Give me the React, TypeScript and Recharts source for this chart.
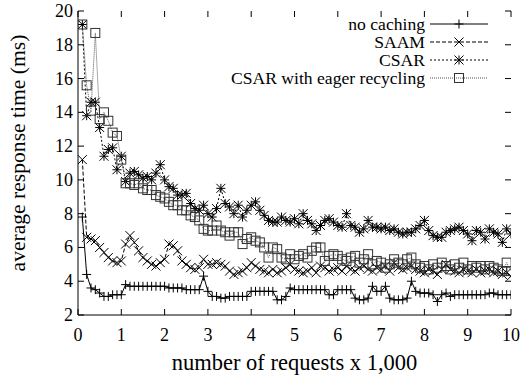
import React from "react";
import { LineChart, Line, XAxis, YAxis } from "recharts";

const xValues = Array.from({ length: 100 }, (_, i) => Number(((i + 1) / 10).toFixed(1)));

const noCaching = [
  7.8, 4.4, 3.6, 3.5, 3.3, 3.1, 3.1, 3.2, 3.2, 3.2,
  3.8, 3.7, 3.7, 3.7, 3.7, 3.7, 3.7, 3.7, 3.7, 3.7,
  3.6, 3.6, 3.6, 3.6, 3.5, 3.5, 3.5, 3.5, 4.3, 3.4,
  3.1, 3.1, 3.0, 3.0, 3.1, 3.1, 3.1, 3.1, 3.1, 3.4,
  3.4, 3.4, 3.4, 3.4, 3.4, 2.9, 2.9, 3.1, 3.6, 3.5,
  3.5, 3.5, 3.5, 3.5, 3.5, 3.5, 3.5, 3.2, 3.2, 3.5,
  3.5, 3.5, 3.5, 3.0, 2.9, 2.9, 3.0, 3.7, 3.4, 3.4,
  3.7, 3.0, 2.9, 2.9, 2.9, 3.0, 4.0, 3.4, 3.3, 3.3,
  3.3, 3.2, 2.8, 3.2, 3.3, 3.1, 3.2, 3.2, 3.2, 3.2,
  3.2, 3.2, 3.2, 3.2, 3.3, 3.3, 3.2, 3.2, 3.2, 3.2,
];

const saam = [
  11.2, 6.6, 6.5, 6.4, 6.0, 5.7, 5.4, 5.2, 5.1, 5.2,
  6.2, 6.7, 6.3, 5.8, 5.4, 5.2, 5.0, 4.9, 5.1, 5.3,
  6.2, 6.1, 5.8, 5.2, 5.0, 4.8, 4.7, 4.8, 5.3, 5.0,
  5.0, 5.1, 5.0, 4.9, 4.6, 4.4, 4.5, 4.6, 4.8, 5.1,
  4.9, 4.7, 4.6, 4.5, 4.7, 4.5, 4.6, 4.8, 5.0, 4.7,
  4.6, 4.5, 4.6, 4.8, 4.5, 4.9, 4.8, 4.6, 4.7, 4.8,
  4.6, 4.9, 4.7, 4.6, 4.8, 4.9, 4.7, 4.6, 4.8, 4.7,
  4.9, 4.6, 5.1, 4.8, 4.7, 4.8, 4.9, 4.7, 4.6, 4.5,
  4.7, 4.6, 4.4, 4.7, 5.0, 4.7, 4.6, 4.5, 4.7, 4.6,
  4.5, 4.7, 4.5, 4.6, 4.7, 4.5, 4.6, 4.4, 4.5, 4.3,
];

const csar = [
  19.2, 13.8, 14.6, 14.6, 13.1, 11.4, 11.8, 11.9, 10.6, 11.4,
  9.9, 10.4, 10.5, 10.3, 10.1, 10.2, 10.0, 10.4, 10.9, 10.0,
  9.6, 9.5, 9.1, 9.1, 9.2, 8.6, 8.3, 8.2, 8.5, 8.0,
  7.8, 8.3, 9.5, 8.6, 8.4, 8.0, 8.5, 7.8, 8.2, 8.5,
  8.7, 8.2, 7.9, 7.6, 7.5, 7.5, 7.8, 7.6, 7.5, 7.7,
  7.4, 8.0, 7.6, 7.4, 7.0, 7.3, 7.6, 7.7, 7.5, 7.3,
  7.2, 8.0, 7.3, 7.2, 6.9, 7.1, 7.6, 7.2, 7.2, 7.1,
  7.2, 7.0, 7.1, 6.9, 6.8, 6.9, 6.9, 7.1, 7.3, 7.6,
  7.0, 6.7, 6.6, 6.6, 6.9, 7.0, 7.1, 7.2, 7.0, 6.8,
  6.4, 7.0, 6.9, 6.5, 7.1, 6.9, 6.8, 6.3, 7.1, 6.8,
];

const csarEager = [
  19.2, 15.6, 14.1, 18.7, 13.6, 14.0, 13.5, 12.8, 12.6, 11.2,
  9.8, 9.8, 9.7, 9.8, 9.5, 9.4, 9.4, 9.1, 9.0, 8.9,
  8.7, 8.5, 8.5, 8.2, 8.2, 7.9, 7.8, 7.6, 7.1, 7.0,
  7.0, 7.3, 7.0, 6.9, 6.7, 6.9, 6.9, 6.2, 6.5, 6.6,
  6.4, 6.3, 6.0, 5.4, 6.0, 5.9, 5.4, 5.3, 5.6, 5.3,
  5.5, 5.6, 5.4, 5.8, 6.0, 6.0, 5.2, 5.5, 5.6, 5.5,
  5.3, 5.2, 5.4, 5.5, 5.1, 5.3, 5.6, 5.0, 5.2, 5.1,
  4.8, 5.0, 5.3, 5.1, 5.0, 5.3, 5.4, 5.0, 4.8, 4.9,
  4.7, 5.0, 4.8, 5.1, 4.9, 4.7, 5.0, 4.8, 5.1, 4.7,
  4.9, 4.8, 4.9, 4.7, 4.9, 4.8, 4.7, 4.6, 5.1, 4.6,
];

const xTicks = [0, 1, 2, 3, 4, 5, 6, 7, 8, 9, 10];
const yTicks = [2, 4, 6, 8, 10, 12, 14, 16, 18, 20];

const seriesNames = ["no caching", "SAAM", "CSAR", "CSAR with eager recycling"];

const data = xValues.map((x, i) => ({
  x,
  none: noCaching[i],
  saam: saam[i],
  csar: csar[i],
  eager: csarEager[i],
}));

const W = 524;
const H = 379;
const PLOT_TOP = 11;
const PLOT_BOTTOM = 315;
const PLOT_LEFT = 78;
const PLOT_RIGHT = 511;
const FONT = "Times New Roman, Liberation Serif, serif";
const TICK = 6;

const Plus = ({ cx, cy, color = "#000" }: any) => (
  <g stroke={color} strokeWidth={1}>
    <line x1={cx - 4.5} x2={cx + 4.5} y1={cy} y2={cy} />
    <line x1={cx} x2={cx} y1={cy - 4.5} y2={cy + 4.5} />
  </g>
);

const Cross = ({ cx, cy, color = "#000" }: any) => (
  <g stroke={color} strokeWidth={1}>
    <line x1={cx - 4.5} x2={cx + 4.5} y1={cy - 4.5} y2={cy + 4.5} />
    <line x1={cx - 4.5} x2={cx + 4.5} y1={cy + 4.5} y2={cy - 4.5} />
  </g>
);

const Star = ({ cx, cy, color = "#000" }: any) => (
  <g stroke={color} strokeWidth={1}>
    <line x1={cx - 4.5} x2={cx + 4.5} y1={cy} y2={cy} />
    <line x1={cx} x2={cx} y1={cy - 4.5} y2={cy + 4.5} />
    <line x1={cx - 4.5} x2={cx + 4.5} y1={cy - 4.5} y2={cy + 4.5} />
    <line x1={cx - 4.5} x2={cx + 4.5} y1={cy + 4.5} y2={cy - 4.5} />
  </g>
);

const Square = ({ cx, cy, color = "#333" }: any) => (
  <rect x={cx - 4.5} y={cy - 4.5} width={9} height={9} fill="none" stroke={color} strokeWidth={1} />
);

const markers = [Plus, Cross, Star, Square];
const dashes = [undefined, "4 2", "2 2", "1 1"];
const strokes = ["#000", "#000", "#000", "#555"];

const makeDot = (Mark: any) => (p: any) => {
  if (p.cx == null || p.cy == null) return <g key={p.index} />;
  return <Mark key={p.index} cx={p.cx} cy={p.cy} />;
};

const XTick = (props: any) => {
  const { x, payload } = props;
  return (
    <g>
      <line x1={x} x2={x} y1={PLOT_BOTTOM} y2={PLOT_BOTTOM - TICK} stroke="#000" />
      <line x1={x} x2={x} y1={PLOT_TOP} y2={PLOT_TOP + TICK} stroke="#000" />
      <text x={x} y={PLOT_BOTTOM + 26} textAnchor="middle" fontFamily={FONT} fontSize={18} fill="#000">
        {payload.value}
      </text>
    </g>
  );
};

const YTick = (props: any) => {
  const { y, payload } = props;
  return (
    <g>
      <line x1={PLOT_LEFT} x2={PLOT_LEFT + TICK} y1={y} y2={y} stroke="#000" />
      <line x1={PLOT_RIGHT} x2={PLOT_RIGHT - TICK} y1={y} y2={y} stroke="#000" />
      <text x={PLOT_LEFT - 5} y={y + 6} textAnchor="end" fontFamily={FONT} fontSize={18} fill="#000">
        {payload.value}
      </text>
    </g>
  );
};

const XTitle = () => (
  <text x={(PLOT_LEFT + PLOT_RIGHT) / 2} y={370} textAnchor="middle" fontFamily={FONT} fontSize={22.5} fill="#000">
    number of requests x 1,000
  </text>
);

const YTitle = () => (
  <text transform="translate(25,153) rotate(-90)" textAnchor="middle" fontFamily={FONT} fontSize={21.6} fill="#000">
    average response time (ms)
  </text>
);

const LegendBox = () => (
  <svg width={W} height={100} style={{ position: "absolute", left: 0, top: 0, pointerEvents: "none" }}>
    {seriesNames.map((name, i) => {
      const Mark = markers[i];
      const cy = 24 + i * 18;
      return (
        <g key={name}>
          <text x={425} y={cy + 6} textAnchor="end" fontFamily={FONT} fontSize={17.6} fill="#000">
            {name}
          </text>
          <line x1={430} x2={488} y1={cy} y2={cy} stroke={strokes[i]} strokeDasharray={dashes[i]} />
          <Mark cx={459} cy={cy} />
        </g>
      );
    })}
  </svg>
);

export default function App() {
  return (
    <div style={{ position: "fixed", left: 0, top: 0, width: W, height: H, background: "#fff" }}>
      <LineChart
        width={W}
        height={H}
        data={data}
        margin={{ top: PLOT_TOP, right: W - PLOT_RIGHT, bottom: 0, left: 0 }}
      >
        <XAxis
          type="number"
          dataKey="x"
          domain={[0, 10]}
          ticks={xTicks}
          allowDataOverflow
          height={H - PLOT_BOTTOM}
          tickLine={false}
          axisLine={{ stroke: "#000" }}
          tick={<XTick />}
          interval={0}
          label={{ content: <XTitle /> }}
        />
        <XAxis xAxisId="top" orientation="top" type="number" dataKey="x" domain={[0, 10]} height={0} tick={false} tickLine={false} axisLine={{ stroke: "#000" }} />
        <YAxis
          type="number"
          domain={[2, 20]}
          ticks={yTicks}
          allowDataOverflow
          width={PLOT_LEFT}
          tickLine={false}
          axisLine={{ stroke: "#000" }}
          tick={<YTick />}
          interval={0}
          label={{ content: <YTitle /> }}
        />
        <YAxis yAxisId="right" orientation="right" domain={[2, 20]} width={0} tick={false} tickLine={false} axisLine={{ stroke: "#000" }} />
        {["none", "saam", "csar", "eager"].map((key, i) => (
          <Line
            key={key}
            dataKey={key}
            name={seriesNames[i]}
            stroke={strokes[i]}
            strokeWidth={1}
            strokeDasharray={dashes[i]}
            dot={makeDot(markers[i])}
            activeDot={false}
            isAnimationActive={false}
          />
        ))}
      </LineChart>
      <LegendBox />
    </div>
  );
}
